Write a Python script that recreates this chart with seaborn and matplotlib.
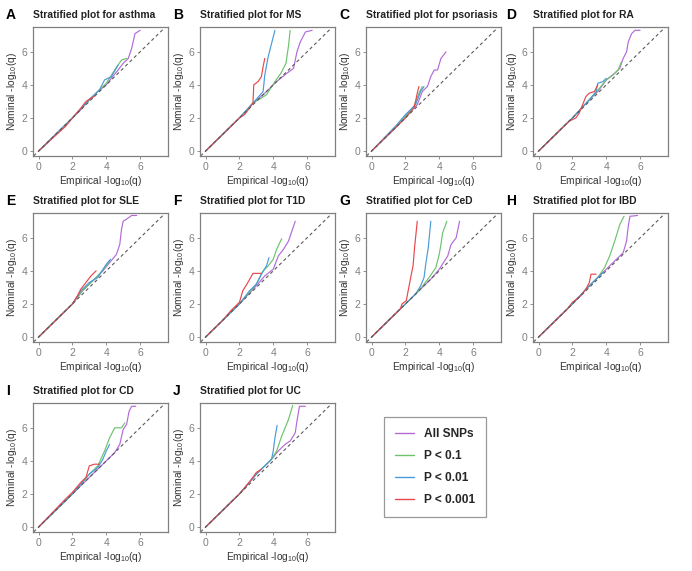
import numpy as np
import pandas as pd
import matplotlib
matplotlib.use('Agg')
import matplotlib.pyplot as plt
import seaborn as sns
from matplotlib.lines import Line2D

# curves: (empirical, nominal) points per stratum
asthma_all = [(0, 0), (1.5, 1.5), (2.5, 2.5), (3, 3.1), (3.5, 3.6), (4, 4.0), (4.3, 4.4), (4.7, 4.9), (5.0, 5.3), (5.3, 5.6), (5.5, 6.2), (5.7, 7.1), (6.0, 7.3)]
asthma_p1 = [(0, 0), (2, 2), (3, 3.1), (3.5, 3.6), (4, 4.1), (4.5, 4.9), (4.9, 5.5), (5.2, 5.6)]
asthma_p01 = [(0, 0), (2, 2), (3, 3.1), (3.6, 3.7), (3.9, 4.3), (4.3, 4.5), (4.7, 5.2)]
asthma_p001 = [(0, 0), (1.6, 1.5), (2, 2.0), (2.5, 2.6), (2.8, 3.0), (3.1, 3.2), (3.3, 3.3)]

ms_all = [(0, 0), (2, 2), (2.8, 2.9), (3.5, 3.5), (4.2, 4.2), (4.8, 4.7), (5.2, 5.0), (5.4, 6.0), (5.6, 6.6), (5.9, 7.2), (6.3, 7.3)]
ms_p1 = [(0, 0), (2, 2), (2.8, 2.9), (3.6, 3.4), (4.1, 4.2), (4.45, 4.7), (4.75, 5.3), (4.9, 6.35), (5.0, 7.3)]
ms_p01 = [(0, 0), (2, 2), (2.8, 2.9), (3.4, 3.6), (3.5, 4.6), (3.7, 5.7), (3.9, 6.5), (4.1, 7.3)]
ms_p001 = [(0, 0), (2, 2), (2.3, 2.2), (2.6, 2.6), (2.8, 2.9), (2.85, 4.0), (3.1, 4.2), (3.3, 4.5), (3.4, 5.1), (3.5, 5.6)]

pso_all = [(0, 0), (1.5, 1.5), (2.0, 2.1), (2.5, 2.6), (2.7, 2.8), (3.0, 3.6), (3.3, 3.9), (3.5, 4.5), (3.7, 4.9), (3.9, 4.9), (4.1, 5.6), (4.4, 6.0)]
pso_p1 = [(0, 0), (1.5, 1.5), (2, 2.1), (2.5, 2.7), (2.8, 3.5), (3.0, 3.9)]
pso_p01 = [(0, 0), (1.5, 1.6), (2, 2.2), (2.6, 2.8), (2.9, 3.6), (3.1, 3.9)]
pso_p001 = [(0, 0), (1.4, 1.4), (2, 2.0), (2.5, 2.6), (2.6, 3.0), (2.7, 3.5), (2.8, 3.9)]

ra_all = [(0, 0), (2, 2), (3, 3.1), (3.5, 3.6), (4, 4.3), (4.5, 4.7), (4.8, 5.0), (5.0, 5.6), (5.2, 6.0), (5.3, 6.6), (5.5, 7.1), (5.7, 7.3), (6.0, 7.3)]
ra_p1 = [(0, 0), (2, 2), (3, 3.1), (3.6, 3.8), (4.0, 4.3), (4.4, 4.6), (4.7, 4.9), (4.9, 5.4)]
ra_p01 = [(0, 0), (2, 2), (3, 3.1), (3.4, 3.6), (3.5, 4.1), (3.8, 4.2), (4.0, 4.4)]
ra_p001 = [(0, 0), (1.8, 1.8), (2.2, 2.0), (2.4, 2.3), (2.6, 2.8), (2.8, 3.3), (3.0, 3.5), (3.3, 3.6), (3.5, 4.0)]

sle_all = [(0, 0), (2, 2), (2.6, 2.8), (3.2, 3.4), (3.8, 4.0), (4.2, 4.5), (4.6, 5.0), (4.8, 5.6), (4.9, 6.5), (5.0, 7.0), (5.3, 7.2), (5.5, 7.35), (5.8, 7.35)]
sle_p1 = [(0, 0), (2, 2), (2.5, 2.7), (3, 3.2), (3.5, 3.7), (4, 4.3), (4.2, 4.6)]
sle_p01 = [(0, 0), (2, 2), (2.5, 2.8), (3, 3.3), (3.5, 3.6), (4, 4.4), (4.25, 4.7)]
sle_p001 = [(0, 0), (2, 2), (2.3, 2.5), (2.5, 2.9), (2.8, 3.3), (3.1, 3.7), (3.4, 4.0)]

t1d_all = [(0, 0), (2, 2), (3, 3.1), (3.5, 3.7), (4, 4.1), (4.3, 4.9), (4.6, 5.3), (4.9, 5.8), (5.1, 6.4), (5.3, 7.0)]
t1d_p1 = [(0, 0), (2, 2), (3, 3.2), (3.4, 4.0), (3.7, 4.3), (4.0, 4.7), (4.2, 5.3), (4.5, 5.95)]
t1d_p01 = [(0, 0), (2, 2), (2.6, 2.8), (3.0, 3.2), (3.3, 3.8), (3.6, 4.3), (3.75, 4.8)]
t1d_p001 = [(0, 0), (1, 1.0), (1.5, 1.6), (2.0, 2.1), (2.2, 2.8), (2.5, 3.3), (2.8, 3.85), (3.3, 3.85)]

ced_all = [(0, 0), (2, 2), (2.8, 2.8), (3.5, 3.5), (4, 4.1), (4.5, 4.9), (4.7, 5.6), (5.0, 6.0), (5.2, 7.0)]
ced_p1 = [(0, 0), (2, 2), (2.8, 2.8), (3.4, 3.6), (3.8, 4.2), (4.0, 5.0), (4.1, 5.6), (4.2, 6.3), (4.45, 7.0)]
ced_p01 = [(0, 0), (2, 2), (2.6, 2.6), (2.9, 3.1), (3.1, 3.6), (3.2, 4.4), (3.35, 5.4), (3.5, 7.0)]
ced_p001 = [(0, 0), (1.7, 1.7), (1.8, 2.0), (2.05, 2.2), (2.2, 3.0), (2.35, 3.8), (2.45, 4.3), (2.55, 5.5), (2.7, 7.0)]

ibd_all = [(0, 0), (2, 2), (3, 3.1), (3.6, 3.7), (4.1, 4.2), (4.6, 4.7), (5.0, 5.1), (5.2, 5.8), (5.3, 6.7), (5.4, 7.3), (5.85, 7.35)]
ibd_p1 = [(0, 0), (2, 2), (3, 3.1), (3.5, 3.6), (3.9, 4.2), (4.2, 4.9), (4.5, 5.8), (4.8, 6.8), (5.05, 7.3)]
ibd_p01 = [(0, 0), (2, 2), (2.9, 3.0), (3.3, 3.4), (3.6, 3.7), (3.8, 3.9)]
ibd_p001 = [(0, 0), (1.7, 1.7), (2, 2.1), (2.5, 2.5), (2.8, 2.9), (3.0, 3.3), (3.1, 3.8), (3.4, 3.8)]

cd_all = [(0, 0), (2, 2), (3, 3.0), (3.5, 3.5), (4, 4.0), (4.5, 4.5), (4.8, 5.0), (5.0, 5.9), (5.2, 6.2), (5.35, 7.0), (5.5, 7.3), (5.75, 7.3)]
cd_p1 = [(0, 0), (2, 2), (3, 3.2), (3.5, 3.7), (3.9, 4.6), (4.2, 5.4), (4.5, 6.0), (4.9, 6.0), (5.1, 6.3)]
cd_p01 = [(0, 0), (2, 2), (3, 3.2), (3.5, 3.6), (3.8, 4.1), (4.0, 4.6), (4.2, 5.0)]
cd_p001 = [(0, 0), (1.5, 1.6), (2, 2.1), (2.5, 2.7), (2.8, 3.0), (3.0, 3.7), (3.3, 3.8), (3.6, 3.8)]

uc_all = [(0, 0), (2, 2), (3, 3.2), (3.9, 4.1), (4.3, 4.6), (4.7, 5.0), (5.0, 5.2), (5.3, 5.7), (5.4, 6.4), (5.55, 7.3), (5.9, 7.3)]
uc_p1 = [(0, 0), (2, 2), (3, 3.2), (3.9, 4.1), (4.2, 4.6), (4.5, 5.5), (4.7, 6.0), (4.9, 6.5), (5.15, 7.35)]
uc_p01 = [(0, 0), (2, 2), (3, 3.2), (3.5, 3.7), (3.9, 4.1), (4.0, 4.6), (4.1, 5.4), (4.23, 6.15)]
uc_p001 = [(0, 0), (1.5, 1.5), (2, 2.0), (2.5, 2.6), (3.0, 3.3), (3.3, 3.5)]

LETTERS = ['A', 'B', 'C', 'D', 'E', 'F', 'G', 'H', 'I', 'J']
DISEASES = ['asthma', 'MS', 'psoriasis', 'RA', 'SLE', 'T1D', 'CeD', 'IBD', 'CD', 'UC']
STRATA = ['All SNPs', 'P < 0.1', 'P < 0.01', 'P < 0.001']
CURVES = [
    [asthma_all, asthma_p1, asthma_p01, asthma_p001],
    [ms_all, ms_p1, ms_p01, ms_p001],
    [pso_all, pso_p1, pso_p01, pso_p001],
    [ra_all, ra_p1, ra_p01, ra_p001],
    [sle_all, sle_p1, sle_p01, sle_p001],
    [t1d_all, t1d_p1, t1d_p01, t1d_p001],
    [ced_all, ced_p1, ced_p01, ced_p001],
    [ibd_all, ibd_p1, ibd_p01, ibd_p001],
    [cd_all, cd_p1, cd_p01, cd_p001],
    [uc_all, uc_p1, uc_p01, uc_p001],
]
PALETTE = {'All SNPs': '#B36AD9', 'P < 0.1': '#6CC26C', 'P < 0.01': '#4A9AD8', 'P < 0.001': '#E8474B'}

sns.set_style('white')
plt.rcParams['font.family'] = ['Liberation Sans', 'DejaVu Sans']
plt.rcParams['mathtext.default'] = 'regular'

W, H = 692, 571
fig = plt.figure(figsize=(W / 100, H / 100), dpi=100)

lefts = [33, 200, 366, 533]
tops = [27, 213, 403]
aw, ah = 135, 129

rows = []
for d, name in enumerate(DISEASES):
    for s, stratum in enumerate(STRATA):
        for x, y in CURVES[d][s]:
            rows.append({'disease': name, 'stratum': stratum, 'empirical': x, 'nominal': y})
df = pd.DataFrame(rows)

grey = '#808080'
for i, name in enumerate(DISEASES):
    r, c = divmod(i, 4)
    l, t = lefts[c], tops[r]
    ax = fig.add_axes([l / W, 1 - (t + ah) / H, aw / W, ah / H])
    sub = df[df['disease'] == name]
    sns.lineplot(data=sub, x='empirical', y='nominal', hue='stratum', hue_order=STRATA,
                 palette=PALETTE, sort=False, estimator=None, linewidth=0.85,
                 legend=False, ax=ax)
    ax.axline((0, 0), slope=1, color='#5a5a5a', linestyle=(0, (3, 2.5)), linewidth=0.8)
    ax.set_xlim(-0.33, 7.65)
    ax.set_ylim(-0.3, 7.5)
    ax.set_xticks([0, 2, 4, 6])
    ax.set_yticks([0, 2, 4, 6])
    ax.tick_params(axis='both', which='both', direction='out', length=2.5, width=0.6,
                   color=grey, labelcolor=grey, labelsize=7.5, pad=1.5,
                   bottom=True, left=True)
    for sp in ax.spines.values():
        sp.set_color(grey)
        sp.set_linewidth(0.9)
    ax.set_xlabel('Empirical -log$_{10}$(q)', fontsize=7.3, color='#333333', labelpad=1.5)
    ax.set_ylabel('Nominal -log$_{10}$(q)', fontsize=7.3, color='#333333', labelpad=1.5)
    fig.text(l / W, 1 - (t - 12) / H, f'Stratified plot for {name}', fontsize=7.4,
             fontweight='bold', color='#222222', ha='left', va='center')
    fig.text((l - 27) / W, 1 - (t - 12) / H, LETTERS[i], fontsize=10,
             fontweight='bold', color='black', ha='left', va='center')

handles = [Line2D([0], [0], color=PALETTE[s], linewidth=1.0) for s in STRATA]
leg = fig.legend(handles, STRATA, loc='upper left', bbox_to_anchor=(384 / W, 1 - 417 / H),
                 borderaxespad=0, frameon=True, fancybox=False,
                 borderpad=0.9, labelspacing=0.85, handlelength=1.6, handletextpad=0.85,
                 prop={'weight': 'bold', 'size': 8.6})
leg.get_frame().set_edgecolor(grey)
leg.get_frame().set_linewidth(0.9)

fig.savefig('out.png', dpi=100)
